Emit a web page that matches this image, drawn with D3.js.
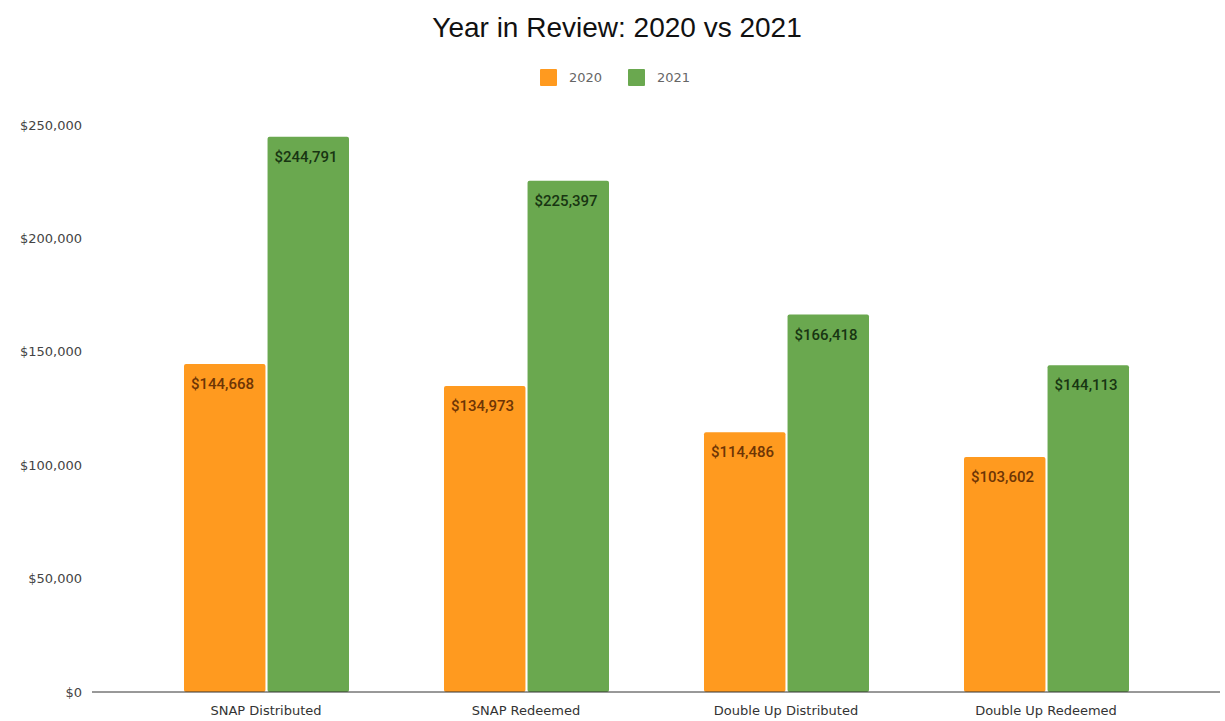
<!DOCTYPE html>
<html>
<head>
<meta charset="utf-8">
<script src="https://cdn.jsdelivr.net/npm/d3@7"></script>
<style>
  body { margin: 0; background: #fff; }
  svg { font-family: "DejaVu Sans", sans-serif; }
</style>
</head>
<body>
<svg width="1225" height="721"></svg>
<script>
// data
var categories = ["SNAP Distributed", "SNAP Redeemed", "Double Up Distributed", "Double Up Redeemed"];
var seriesNames = ["2020", "2021"];
var values2020 = [144668, 134973, 114486, 103602];
var values2021 = [244791, 225397, 166418, 144113];
var yTicks = [0, 50000, 100000, 150000, 200000, 250000];

var colors = {"2020": "#ff9a1f", "2021": "#6aa84f"};
var labelColors = {"2020": "#6e3505", "2021": "#183512"};

var svg = d3.select("svg");

// scales
var y = d3.scaleLinear()
    .domain([0, 250000])
    .range([692, 125]);

var x0 = d3.scaleBand()
    .domain(categories)
    .range([136, 1176])
    .padding(0);

var x1 = d3.scaleBand()
    .domain(seriesNames)
    .range([48, x0.bandwidth() - 47])
    .paddingInner(0.025);

var fmt = d3.format("$,");

// title
svg.append("text")
    .attr("x", 617)
    .attr("y", 37)
    .attr("text-anchor", "middle")
    .style("font-family", "Arial, 'Liberation Sans', sans-serif")
    .style("font-size", "28px")
    .style("fill", "#111")
    .text("Year in Review: 2020 vs 2021");

// legend
var legend = svg.append("g").attr("transform", "translate(540,69)");
seriesNames.forEach(function(s, i) {
    var g = legend.append("g").attr("transform", "translate(" + (i * 88) + ",0)");
    g.append("rect").attr("width", 17).attr("height", 17).attr("rx", 1).style("fill", colors[s]);
    g.append("text").attr("x", 29).attr("y", 13)
        .style("font-size", "13px").style("fill", "#666").text(s);
});

// y axis labels
svg.append("g")
    .attr("transform", "translate(82,0)")
    .call(d3.axisLeft(y).tickValues(yTicks).tickSize(0).tickPadding(0)
        .tickFormat(d3.format("$,")))
    .call(function(g) { g.select(".domain").remove(); })
    .selectAll("text")
    .style("font-size", "13px")
    .style("fill", "#444")
    .style("font-family", "'DejaVu Sans', sans-serif");

// bars
var rows = categories.map(function(c, i) {
    return {cat: c, vals: [{s: "2020", v: values2020[i]}, {s: "2021", v: values2021[i]}]};
});

var groups = svg.append("g").selectAll("g")
    .data(rows)
    .enter().append("g")
    .attr("transform", function(d) { return "translate(" + x0(d.cat) + ",0)"; });

groups.selectAll("rect")
    .data(function(d) { return d.vals; })
    .enter().append("rect")
    .attr("x", function(d) { return x1(d.s); })
    .attr("y", function(d) { return y(d.v); })
    .attr("width", x1.bandwidth())
    .attr("height", function(d) { return y(0) - y(d.v); })
    .attr("rx", 2)
    .style("fill", function(d) { return colors[d.s]; });

groups.selectAll("text.val")
    .data(function(d) { return d.vals; })
    .enter().append("text")
    .attr("class", "val")
    .attr("x", function(d) { return x1(d.s) + 7; })
    .attr("y", function(d) { return y(d.v) + 25; })
    .style("font-family", "Roboto, sans-serif")
    .style("font-weight", "500")
    .style("font-size", "15px")
    .style("fill", function(d) { return labelColors[d.s]; })
    .text(function(d) { return fmt(d.v); });

// baseline + category labels
svg.append("line")
    .attr("x1", 92).attr("x2", 1220)
    .attr("y1", y(0)).attr("y2", y(0))
    .style("stroke", "#333")
    .style("stroke-width", 1);

svg.append("g")
    .attr("transform", "translate(0," + y(0) + ")")
    .call(d3.axisBottom(x0).tickSize(0).tickPadding(14))
    .call(function(g) { g.select(".domain").remove(); })
    .selectAll("text")
    .style("font-size", "13px")
    .style("fill", "#333")
    .style("font-family", "'DejaVu Sans', sans-serif");
</script>
</body>
</html>
